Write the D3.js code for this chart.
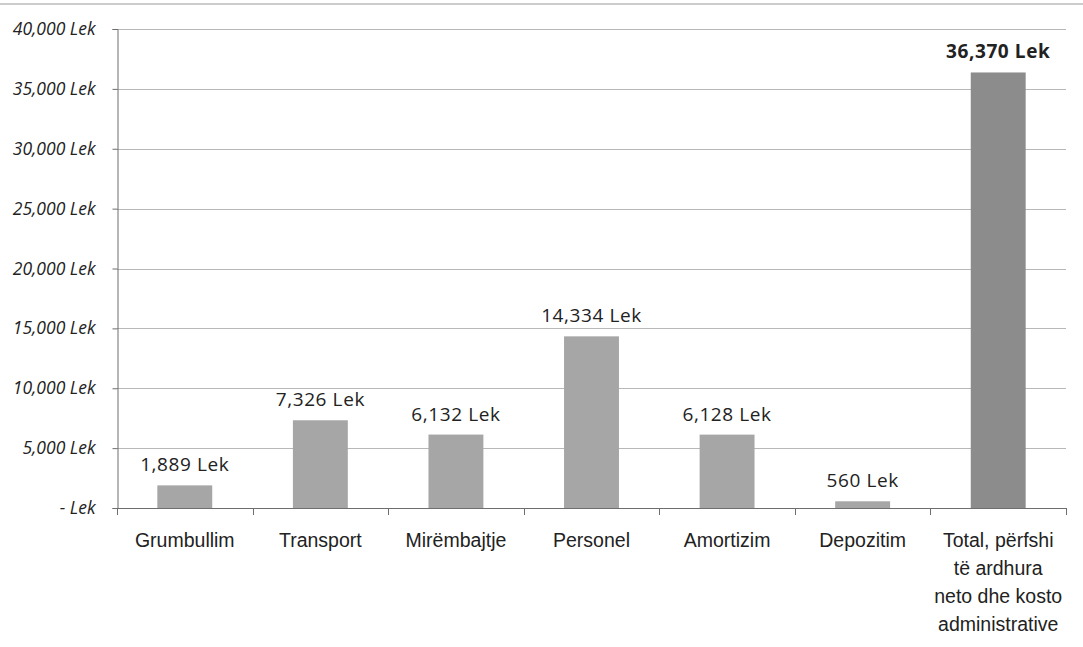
<!DOCTYPE html>
<html><head><meta charset="utf-8">
<script src="https://cdn.jsdelivr.net/npm/d3@7"></script>
<style>body{margin:0;background:#fff}</style>
</head><body><svg id="c" width="1083" height="647"></svg>
<script>
const categories = ["Grumbullim","Transport","Mirëmbajtje","Personel","Amortizim","Depozitim","Total, përfshi|të ardhura|neto dhe kosto|administrative"];
const values = [1889, 7326, 6132, 14334, 6128, 560, 36370];
const yTicks = [0,5000,10000,15000,20000,25000,30000,35000,40000];
const tickLabels = ["- Lek","5,000 Lek","10,000 Lek","15,000 Lek","20,000 Lek","25,000 Lek","30,000 Lek","35,000 Lek","40,000 Lek"];
const valueLabels = ["1,889 Lek","7,326 Lek","6,132 Lek","14,334 Lek","6,128 Lek","560 Lek","36,370 Lek"];

const svg = d3.select("#c");
const L = 117, R = 1066, T = 29, B = 508;
const x = d3.scaleBand().domain(categories).range([L, R]).paddingInner(0.595).paddingOuter(0.2975);
const xTick = d3.scaleLinear().domain([0, categories.length]).range([L, R]);
const y = d3.scaleLinear().domain([0, 40000]).range([B, T]);

// top scan border
svg.append("line").attr("x1",0).attr("x2",1083).attr("y1",4).attr("y2",4)
  .attr("stroke","#9a9a9a").attr("stroke-width",1.2);

// gridlines
svg.append("g").selectAll("line").data(yTicks.slice(1)).join("line")
  .attr("x1",L).attr("x2",R).attr("y1",d=>Math.round(y(d))+0.5).attr("y2",d=>Math.round(y(d))+0.5)
  .attr("stroke","#b8b8b8").attr("stroke-width",1);

// bars
svg.append("g").selectAll("rect").data(values).join("rect")
  .attr("x",(d,i)=>x(categories[i])).attr("width",x.bandwidth())
  .attr("y",d=>y(d)).attr("height",d=>B-y(d))
  .attr("fill",(d,i)=> i===6 ? "#8c8c8c" : "#a6a6a6");

// y axis
const yAxis = d3.axisLeft(y).tickValues(yTicks).tickSize(5).tickFormat((d,i)=>tickLabels[i]);
const ya = svg.append("g").attr("transform",`translate(${L+0.5},0)`).call(yAxis);
ya.select(".domain").attr("stroke","#6e6e6e");
ya.selectAll(".tick line").attr("stroke","#6e6e6e");
ya.selectAll(".tick text").attr("x",-22).attr("font-family","'Open Sans', 'Noto Sans', sans-serif")
  .attr("font-style","italic").attr("font-size",17.5).attr("fill","#222");

// x baseline and ticks
svg.append("line").attr("x1",L).attr("x2",R).attr("y1",B+0.5).attr("y2",B+0.5).attr("stroke","#6e6e6e");
svg.append("g").selectAll("line").data(d3.range(categories.length+1)).join("line")
  .attr("x1",d=>Math.round(xTick(d))+0.5).attr("x2",d=>Math.round(xTick(d))+0.5)
  .attr("y1",B).attr("y2",B+7).attr("stroke","#6e6e6e");

// category labels
const cl = svg.append("g").selectAll("text").data(categories).join("text")
  .attr("x",d=>x(d)+x.bandwidth()/2).attr("y",547).attr("text-anchor","middle")
  .attr("font-family","'Liberation Sans', Arial, sans-serif").attr("font-size",19.5).attr("fill","#222");
cl.each(function(d){
  const parts = d.split("|");
  const t = d3.select(this);
  parts.forEach((p,k)=>t.append("tspan").attr("x",x(d)+x.bandwidth()/2).attr("dy",k===0?0:28).text(p));
});

// value labels
svg.append("g").selectAll("text").data(values).join("text")
  .attr("x",(d,i)=>x(categories[i])+x.bandwidth()/2).attr("y",d=>y(d)-14)
  .attr("text-anchor","middle").attr("font-family","'Open Sans', 'Noto Sans', sans-serif")
  .attr("font-size",19).attr("letter-spacing",0.6).attr("fill","#222")
  .attr("font-weight",(d,i)=>i===6?"bold":"normal")
  .text((d,i)=>valueLabels[i]);
</script></body></html>
